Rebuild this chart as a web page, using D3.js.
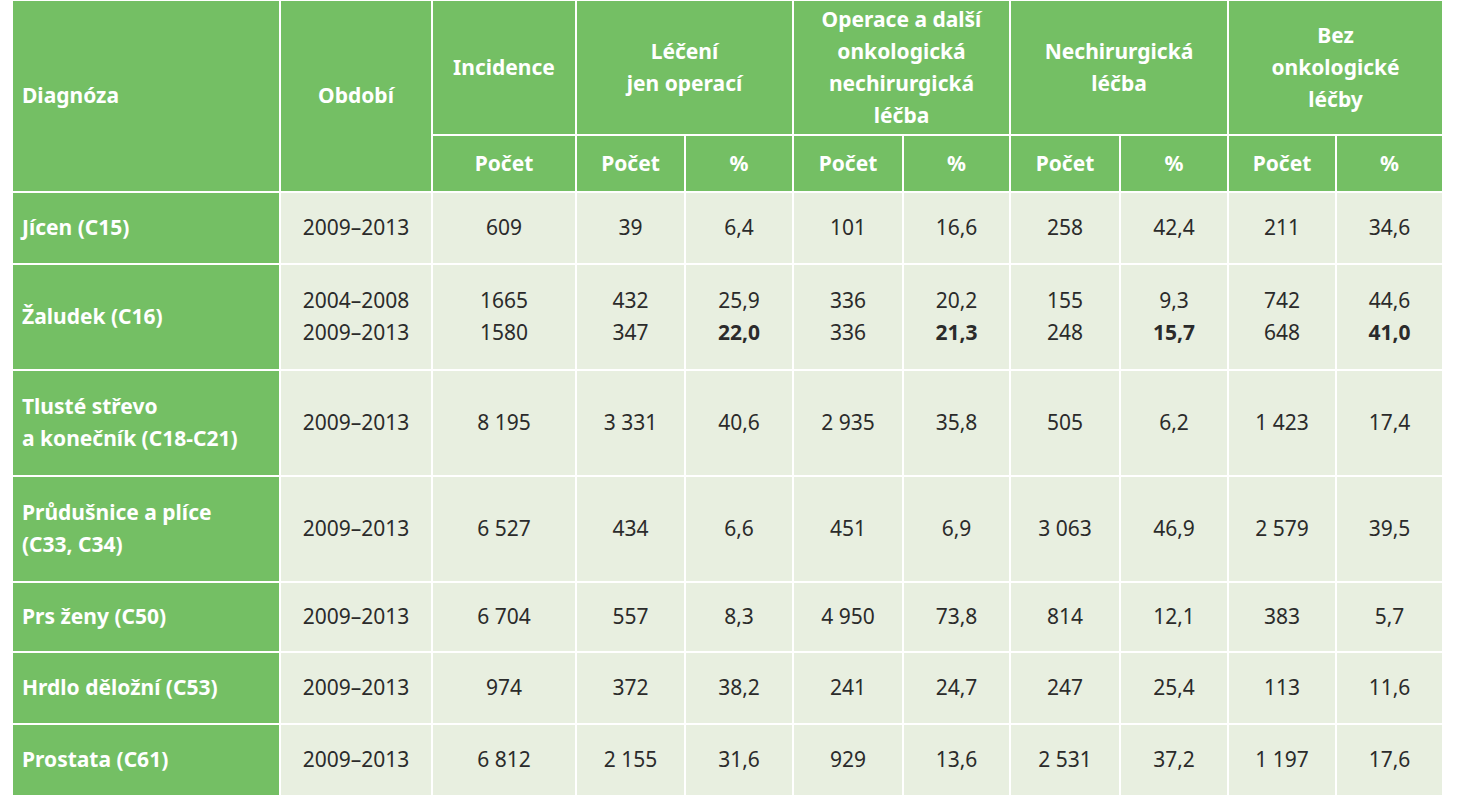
<!DOCTYPE html>
<html>
<head>
<meta charset="UTF-8">
<script src="https://cdn.jsdelivr.net/npm/d3@7"></script>
<style>
  body { margin: 0; background: #fff; }
  text { font-family: "Noto Sans", "Open Sans", sans-serif; }
</style>
</head>
<body>
<svg id="chart" width="1465" height="800"></svg>
<script>
// table data
const diagnoses = [["Jícen (C15)"], ["Žaludek (C16)"], ["Tlusté střevo", "a konečník (C18-C21)"],
  ["Průdušnice a plíce", "(C33, C34)"], ["Prs ženy (C50)"], ["Hrdlo děložní (C53)"], ["Prostata (C61)"]];
const periods = [["2009–2013"], ["2004–2008", "2009–2013"], ["2009–2013"], ["2009–2013"], ["2009–2013"], ["2009–2013"], ["2009–2013"]];
const incidence = [["609"], ["1665", "1580"], ["8 195"], ["6 527"], ["6 704"], ["974"], ["6 812"]];
const operOnlyN = [["39"], ["432", "347"], ["3 331"], ["434"], ["557"], ["372"], ["2 155"]];
const operOnlyPct = [["6,4"], ["25,9", "*22,0"], ["40,6"], ["6,6"], ["8,3"], ["38,2"], ["31,6"]];
const operOtherN = [["101"], ["336", "336"], ["2 935"], ["451"], ["4 950"], ["241"], ["929"]];
const operOtherPct = [["16,6"], ["20,2", "*21,3"], ["35,8"], ["6,9"], ["73,8"], ["24,7"], ["13,6"]];
const nonSurgN = [["258"], ["155", "248"], ["505"], ["3 063"], ["814"], ["247"], ["2 531"]];
const nonSurgPct = [["42,4"], ["9,3", "*15,7"], ["6,2"], ["46,9"], ["12,1"], ["25,4"], ["37,2"]];
const noTreatN = [["211"], ["742", "648"], ["1 423"], ["2 579"], ["383"], ["113"], ["1 197"]];
const noTreatPct = [["34,6"], ["44,6", "*41,0"], ["17,4"], ["39,5"], ["5,7"], ["11,6"], ["17,6"]];
const groupHeads = [["Incidence"], ["Léčení", "jen operací"], ["Operace a další", "onkologická", "nechirurgická", "léčba"],
  ["Nechirurgická", "léčba"], ["Bez", "onkologické", "léčby"]];
const subHeads = ["Počet", "Počet", "%", "Počet", "%", "Počet", "%", "Počet", "%"];

const colX = [12, 280, 432, 576, 685, 793, 903, 1010, 1120, 1228, 1336, 1443];
const rowY = [0, 135, 192, 264, 370, 476, 582, 652, 724, 796];
const groupSpan = [[2, 3], [3, 5], [5, 7], [7, 9], [9, 11]];
const green = "#74bf64", light = "#e8efe0", ink = "#2b2b2b";
const lh = 32, fs = 21;

const svg = d3.select("#chart");
const cells = svg.append("g"), labels = svg.append("g");

function cell(x0, x1, y0, y1, fill) {
  cells.append("rect").attr("x", x0).attr("y", y0).attr("width", x1 - x0).attr("height", y1 - y0)
    .attr("fill", fill).attr("stroke", "#fff").attr("stroke-width", 2);
}
function lines(arr, x, yc, anchor, color, bold) {
  const t = labels.append("text").attr("text-anchor", anchor).attr("fill", color)
    .attr("font-size", fs).attr("font-weight", bold ? 700 : 400);
  arr.forEach((s, i) => {
    const b = s.startsWith("*");
    t.append("tspan").attr("x", x).attr("y", yc + (i - (arr.length - 1) / 2) * lh + 7)
      .attr("font-weight", b || bold ? 700 : 400).text(b ? s.slice(1) : s);
  });
}

// header
cell(colX[0], colX[1], rowY[0], rowY[2], green);
lines(["Diagnóza"], colX[0] + 10, 96, "start", "#fff", true);
cell(colX[1], colX[2], rowY[0], rowY[2], green);
lines(["Období"], (colX[1] + colX[2]) / 2, 96, "middle", "#fff", true);
groupSpan.forEach(([a, b], i) => {
  cell(colX[a], colX[b], rowY[0], rowY[1], green);
  lines(groupHeads[i], (colX[a] + colX[b]) / 2, 68, "middle", "#fff", true);
});
subHeads.forEach((s, i) => {
  cell(colX[i + 2], colX[i + 3], rowY[1], rowY[2], green);
  lines([s], (colX[i + 2] + colX[i + 3]) / 2, (rowY[1] + rowY[2]) / 2, "middle", "#fff", true);
});

// body
const cols = [periods, incidence, operOnlyN, operOnlyPct, operOtherN, operOtherPct, nonSurgN, nonSurgPct, noTreatN, noTreatPct];
diagnoses.forEach((d, r) => {
  const y0 = rowY[r + 2], y1 = rowY[r + 3], yc = (y0 + y1) / 2;
  cell(colX[0], colX[1], y0, y1, green);
  lines(d, colX[0] + 10, yc, "start", "#fff", true);
  cols.forEach((c, j) => {
    cell(colX[j + 1], colX[j + 2], y0, y1, light);
    lines(c[r], (colX[j + 1] + colX[j + 2]) / 2, yc, "middle", ink, false);
  });
});
</script>
</body>
</html>
